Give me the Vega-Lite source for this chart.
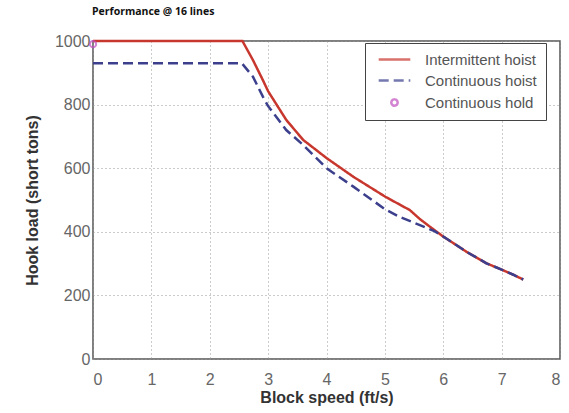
{
  "$schema": "https://vega.github.io/schema/vega-lite/v6.json",
  "autosize": "none",
  "width": 467,
  "height": 318,
  "padding": {"left": 93, "top": 41, "right": 9, "bottom": 54},
  "background": "white",
  "title": {
    "text": "Performance @ 16 lines",
    "anchor": "start",
    "frame": "group",
    "font": "Open Sans",
    "fontSize": 10.5,
    "fontWeight": "bold",
    "color": "#111",
    "offset": 16,
    "dx": -1
  },
  "data": {
    "values": [
      {"series": "Intermittent hoist", "speed": 0, "load": 1000},
      {"series": "Intermittent hoist", "speed": 2.56, "load": 1000},
      {"series": "Intermittent hoist", "speed": 2.74, "load": 940},
      {"series": "Intermittent hoist", "speed": 2.91, "load": 877},
      {"series": "Intermittent hoist", "speed": 3.0, "load": 842},
      {"series": "Intermittent hoist", "speed": 3.31, "load": 752},
      {"series": "Intermittent hoist", "speed": 3.6, "load": 689},
      {"series": "Intermittent hoist", "speed": 4.0, "load": 632},
      {"series": "Intermittent hoist", "speed": 4.46, "load": 573},
      {"series": "Intermittent hoist", "speed": 5.01, "load": 510},
      {"series": "Intermittent hoist", "speed": 5.25, "load": 486},
      {"series": "Intermittent hoist", "speed": 5.43, "load": 468},
      {"series": "Intermittent hoist", "speed": 5.6, "load": 440},
      {"series": "Intermittent hoist", "speed": 5.8, "load": 412},
      {"series": "Intermittent hoist", "speed": 6.0, "load": 385},
      {"series": "Intermittent hoist", "speed": 6.4, "load": 337},
      {"series": "Intermittent hoist", "speed": 6.74, "load": 301},
      {"series": "Intermittent hoist", "speed": 7.0, "load": 281},
      {"series": "Intermittent hoist", "speed": 7.2, "load": 265},
      {"series": "Intermittent hoist", "speed": 7.37, "load": 250},
      {"series": "Continuous hoist", "speed": 0, "load": 930},
      {"series": "Continuous hoist", "speed": 2.55, "load": 930},
      {"series": "Continuous hoist", "speed": 2.74, "load": 888},
      {"series": "Continuous hoist", "speed": 2.91, "load": 825},
      {"series": "Continuous hoist", "speed": 3.0, "load": 795},
      {"series": "Continuous hoist", "speed": 3.31, "load": 720},
      {"series": "Continuous hoist", "speed": 3.6, "load": 673},
      {"series": "Continuous hoist", "speed": 4.0, "load": 600},
      {"series": "Continuous hoist", "speed": 4.46, "load": 542},
      {"series": "Continuous hoist", "speed": 5.01, "load": 470},
      {"series": "Continuous hoist", "speed": 5.25, "load": 447},
      {"series": "Continuous hoist", "speed": 5.6, "load": 421},
      {"series": "Continuous hoist", "speed": 5.85, "load": 402},
      {"series": "Continuous hoist", "speed": 6.0, "load": 385},
      {"series": "Continuous hoist", "speed": 6.4, "load": 337},
      {"series": "Continuous hoist", "speed": 6.74, "load": 301},
      {"series": "Continuous hoist", "speed": 7.0, "load": 281},
      {"series": "Continuous hoist", "speed": 7.2, "load": 265},
      {"series": "Continuous hoist", "speed": 7.37, "load": 250},
      {"series": "Continuous hold", "speed": 0, "load": 990}
    ]
  },
  "encoding": {
    "x": {
      "field": "speed", "type": "quantitative",
      "scale": {"domain": [0, 8], "nice": false},
      "axis": {"values": [0,1,2,3,4,5,6,7,8], "format": "d", "title": "Block speed (ft/s)", "labelPadding": 12, "titlePadding": 2}
    },
    "y": {
      "field": "load", "type": "quantitative",
      "scale": {"domain": [0, 1000], "nice": false},
      "axis": {"values": [0,200,400,600,800,1000], "format": "d", "title": "Hook load (short tons)", "labelPadding": 3, "titlePadding": 14}
    }
  },
  "layer": [
    {
      "transform": [{"filter": "datum.series === 'Intermittent hoist'"}],
      "mark": {"type": "line", "strokeWidth": 2.5},
      "encoding": {
        "color": {"field": "series", "type": "nominal", "title": null,
          "scale": {"domain": ["Intermittent hoist", "Continuous hoist", "Continuous hold"], "range": ["#c8372d", "#3b3f8c", "#c050c0"]}},
        "strokeDash": {"field": "series", "type": "nominal", "title": null,
          "scale": {"domain": ["Intermittent hoist", "Continuous hoist", "Continuous hold"], "range": [[1,0],[10,5],[1,0]]}}
      }
    },
    {
      "transform": [{"filter": "datum.series === 'Continuous hoist'"}],
      "mark": {"type": "line", "strokeWidth": 2.5},
      "encoding": {
        "color": {"field": "series", "type": "nominal", "title": null},
        "strokeDash": {"field": "series", "type": "nominal", "title": null}
      }
    },
    {
      "transform": [{"filter": "datum.series === 'Continuous hold'"}],
      "mark": {"type": "point", "filled": false, "size": 40, "strokeWidth": 2},
      "encoding": {
        "color": {"field": "series", "type": "nominal", "title": null},
        "shape": {"field": "series", "type": "nominal", "title": null,
          "scale": {"domain": ["Intermittent hoist", "Continuous hoist", "Continuous hold"], "range": ["M-5,0L5,0", "M-5,0L5,0", "circle"]}}
      }
    }
  ],
  "config": {
    "view": {"stroke": "#555", "strokeWidth": 1.5},
    "axis": {
      "domain": false,
      "ticks": false,
      "grid": true,
      "gridColor": "#999",
      "gridDash": [1, 3],
      "gridWidth": 1,
      "labelFont": "Liberation Sans",
      "labelFontSize": 16,
      "labelColor": "#666",
      "titleFont": "Liberation Sans",
      "titleFontSize": 16,
      "titleFontWeight": "bold",
      "titleColor": "#333"
    },
    "legend": {
      "orient": "none",
      "legendX": 272,
      "legendY": 2,
      "fillColor": "white",
      "strokeColor": "#444",
      "padding": 9,
      "labelFont": "Liberation Sans",
      "labelFontSize": 15,
      "labelColor": "#555",
      "symbolSize": 40,
      "symbolOffset": 13,
      "symbolStrokeWidth": 2.5,
      "rowPadding": 5,
      "labelOffset": 23
    }
  }
}
